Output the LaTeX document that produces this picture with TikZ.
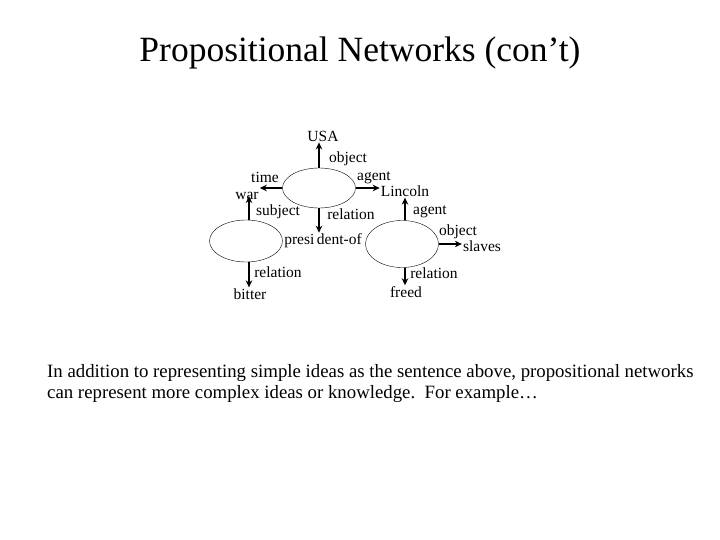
\documentclass[tikz,border=0pt]{standalone}
\usepackage{fontspec}
\setmainfont{Liberation Serif}
\usetikzlibrary{arrows.meta,shapes.geometric}
\tikzset{
  prop/.style={draw, ellipse, minimum width=73pt, minimum height=40pt, inner sep=0pt},
  term/.style={font=\fontsize{15.5}{17}\selectfont, inner sep=1pt},
  arc/.style={font=\fontsize{15.5}{17}\selectfont, inner sep=0pt},
  link/.style={->, line width=1.8pt}
}
\begin{document}
\begin{tikzpicture}[x=1pt,y=-1pt,>={Stealth[length=7pt,width=6.5pt]}]
        \useasboundingbox (0,0) rectangle (720,540);
        \node (title) [anchor=base, inner sep=0pt] at (360,62) {\fontsize{35.5}{40}\selectfont Propositional Networks (con't)};

        % propositions
        \node (top) [prop] at (319,188) {};
        \node (left) [prop, minimum height=42pt] at (246,241) {};
        \node (right) [prop, minimum height=47pt] at (402,244) {};

        % terms
        \node (usa) [term] at (323,136) {USA};
        \node (war) [term] at (247,196) {war};
        \node (lincoln) [term] at (405,191) {Lincoln};
        \node (presof) [term] at (323,241) {presi\,dent-of};
        \node (slaves) [term] at (482,246) {slaves};
        \node (bitter) [term] at (250,294) {bitter};
        \node (freed) [term] at (406,292) {freed};

        \draw[link] (top.north) -- (top.north |- usa.south);
        \draw[link] (top.west) -- (top.west -| war.east);
        \draw[link] (top.east) -- (top.east -| lincoln.west);
        \draw[link] (top.south) -- (top.south |- presof.north);
        \draw[link] (left.north -| 249,0) -- (249,0 |- war.center);
        \draw[link] (left.south -| 249,0) -- (249,0 |- bitter.north);
        \draw[link] (right.north -| lincoln.south) -- (lincoln.south);
        \draw[link] (right.east) -- (right.east -| slaves.west);
        \draw[link] (right.south -| 405,0) -- (405,0 |- freed.north);

        % arc labels
        \node (l1) [arc] at (348,159) {object};
        \node (l2) [arc] at (265,177) {time};
        \node (l3) [arc] at (374,178) {agent};
        \node (l4) [arc] at (351,214) {relation};
        \node (l5) [arc] at (278,212) {subject};
        \node (l6) [arc] at (278,272) {relation};
        \node (l7) [arc] at (430,212) {agent};
        \node (l8) [arc] at (458,232) {object};
        \node (l9) [arc] at (434,273) {relation};

        \node (text) [anchor=base west, align=left, inner sep=0pt, font=\fontsize{18.8}{21}\selectfont] at (47,398)
          {In addition to representing simple ideas as the sentence above, propositional networks\\
           can represent more complex ideas or knowledge.\ \ For example\dots};
    \end{tikzpicture}
\end{document}
